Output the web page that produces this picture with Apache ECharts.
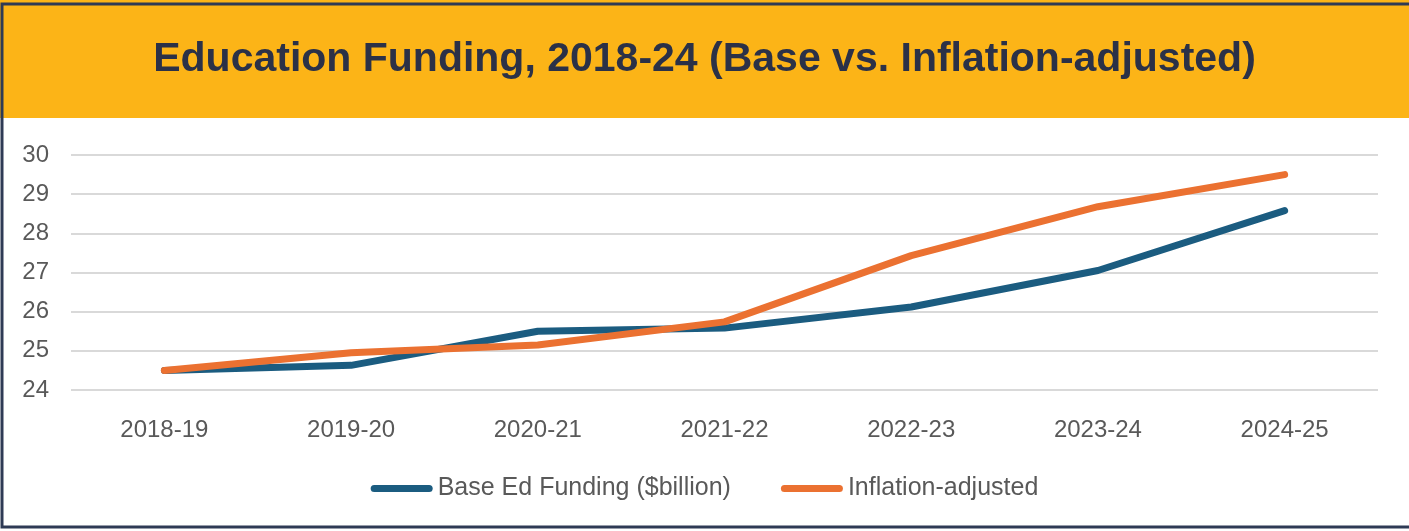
<!DOCTYPE html>
<html>
<head>
<meta charset="utf-8">
<script src="https://cdn.jsdelivr.net/npm/echarts@6/dist/echarts.min.js"></script>
<style>
html,body{margin:0;padding:0;background:#fff;}
#chart{width:1409px;height:531px;}
</style>
</head>
<body>
<div id="chart"></div>
<script>
const titleText = "Education Funding, 2018-24 (Base vs. Inflation-adjusted)";
const categories = ["2018-19","2019-20","2020-21","2021-22","2022-23","2023-24","2024-25"];
const baseName = "Base Ed Funding ($billion)";
const baseValues = [24.5, 24.63, 25.5, 25.58, 26.12, 27.05, 28.58];
const inflName = "Inflation-adjusted";
const inflValues = [24.5, 24.95, 25.15, 25.74, 27.43, 28.68, 29.5];
const yTicks = [24, 25, 26, 27, 28, 29, 30];

const chart = echarts.init(document.getElementById('chart'), null, {renderer:'canvas'});
const font = "'Liberation Sans', Arial, sans-serif";
chart.setOption({
  animation:false,
  backgroundColor:'#ffffff',
  graphic:[
    {type:'rect', z:-10, shape:{x:0,y:0,width:1409,height:118}, style:{fill:'#FCB417'}},
    {type:'rect', z:100, shape:{x:2,y:4,width:1420,height:523}, style:{fill:'none', stroke:'#2E3A55', lineWidth:3}}
  ],
  title:{
    text:titleText, left:'center', top:34,
    textStyle:{fontFamily:font, fontWeight:'bold', fontSize:41, color:'#2B3147'}
  },
  grid:{left:71, right:31, top:155, bottom:141, containLabel:false},
  xAxis:{
    type:'category', data:categories, boundaryGap:true,
    axisLine:{show:false}, axisTick:{show:false},
    axisLabel:{color:'#595959', fontFamily:font, fontSize:24, margin:28}
  },
  yAxis:{
    type:'value', min:yTicks[0], max:yTicks[yTicks.length-1], interval:1,
    axisLine:{show:false}, axisTick:{show:false},
    axisLabel:{color:'#595959', fontFamily:font, fontSize:24, margin:22},
    splitLine:{lineStyle:{color:'#D9D9D9', width:2}}
  },
  legend:{
    left:'center', top:471, itemGap:50, itemWidth:62, itemHeight:7,
    icon:'path://M3.5,0 H58.5 A3.5,3.5 0 0 1 58.5,7 H3.5 A3.5,3.5 0 0 1 3.5,0 Z',
    textStyle:{color:'#595959', fontFamily:font, fontSize:25},
    data:[baseName, inflName]
  },
  series:[
    {name:baseName, type:'line', data:baseValues, symbol:'none',
     color:'#1B5C80',
     lineStyle:{width:7, color:'#1B5C80', cap:'round', join:'round'}},
    {name:inflName, type:'line', data:inflValues, symbol:'none',
     color:'#EB7131',
     lineStyle:{width:7, color:'#EB7131', cap:'round', join:'round'}}
  ]
});
</script>
</body>
</html>
